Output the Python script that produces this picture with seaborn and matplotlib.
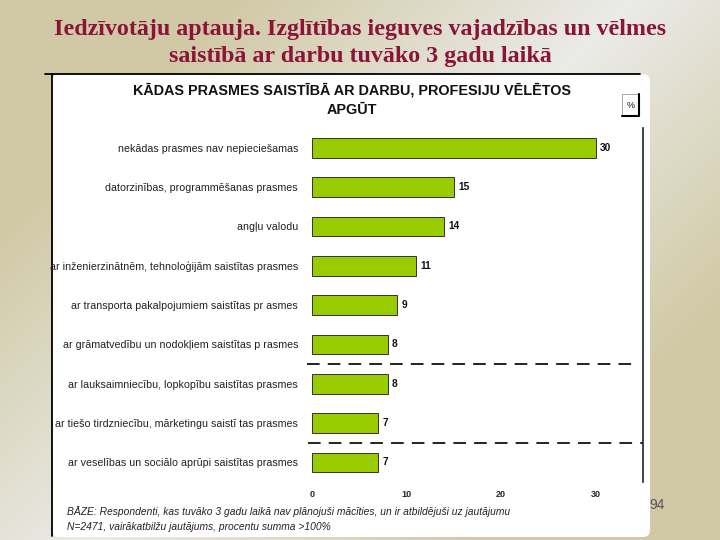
import matplotlib
matplotlib.use('Agg')
import matplotlib.pyplot as plt
from matplotlib.patches import FancyBboxPatch, Rectangle
import seaborn as sns
import numpy as np
import pandas as pd

# === 1. Data ===
skills = [
    'nekādas prasmes nav nepieciešamas',
    'datorzinības, programmēšanas prasmes',
    'angļu valodu',
    'ar inženierzinātnēm, tehnoloģijām saistītas prasmes',
    'ar transporta pakalpojumiem saistītas pr asmes',
    'ar grāmatvedību un nodokļiem saistītas p rasmes',
    'ar lauksaimniecību, lopkopību saistītas prasmes',
    'ar tiešo tirdzniecību, mārketingu saistī tas prasmes',
    'ar veselības un sociālo aprūpi saistītas prasmes',
]
shares = [30, 15, 14, 11, 9, 8, 8, 7, 7]
x_ticks = [0, 10, 20, 30]

df = pd.DataFrame({'Skill': skills, 'Share': shares})

slide_title = 'Iedzīvotāju aptauja. Izglītības ieguves vajadzības un vēlmes\nsaistībā ar darbu tuvāko 3 gadu laikā'
chart_title = 'KĀDAS PRASMES SAISTĪBĀ AR DARBU, PROFESIJU VĒLĒTOS\nAPGŪT'
base_note = ['BĀZE: Respondenti, kas tuvāko 3 gadu laikā nav plānojuši mācīties, un ir atbildējuši uz jautājumu',
             'N=2471, vairākatbilžu jautājums, procentu summa >100%']

# === 2. Style ===
sns.set_style('white')
plt.rcParams['font.family'] = ['Liberation Sans', 'DejaVu Sans']

fig = plt.figure(figsize=(7.2, 5.4), dpi=100)

# === 3. Slide background (pixel coords) ===
bg = fig.add_axes([0, 0, 1, 1])
xx, yy = np.meshgrid(np.linspace(0, 720, 240), np.linspace(0, 540, 180))
t = (xx + yy) / 1260.0
w = np.clip(1 - np.abs(2 * t - 1) * 1.6, 0, 1)
beige = np.array([0.82, 0.79, 0.65])
light = np.array([0.92, 0.92, 0.91])
grad = beige[None, None, :] + (light - beige)[None, None, :] * w[..., None]
bg.imshow(grad, extent=[0, 720, 540, 0], aspect='auto', zorder=0)
bg.set_xlim(0, 720)
bg.set_ylim(540, 0)
bg.axis('off')

bg.add_patch(FancyBboxPatch((52, 74), 598, 463, boxstyle='round,pad=0,rounding_size=7',
                            facecolor='white', edgecolor='none', zorder=1))
bg.plot([45, 640], [74, 74], color='black', lw=1.3, zorder=2)
bg.plot([52, 52], [74, 536], color='black', lw=1.3, zorder=2)

bg.text(360, 43, slide_title, ha='center', va='center', fontsize=17.3, fontweight='bold',
        color='#8b1538', family=['Liberation Serif', 'DejaVu Serif'], linespacing=1.38, zorder=3)

bg.text(352, 100, chart_title, ha='center', va='center', fontsize=10.4, fontweight='bold',
        color='#111111', linespacing=1.5, zorder=3)

# "%" box
bg.add_patch(Rectangle((622, 94), 17, 22, facecolor='white', edgecolor='#999999', lw=0.6, zorder=2))
bg.plot([622, 639, 639], [116, 116, 94], color='black', lw=1.5, zorder=3)
bg.text(630.5, 105, '%', ha='center', va='center', fontsize=6.5, color='#111111', zorder=3)

bg.text(67, 512, base_note[0], ha='left', va='center', fontsize=7.4, style='italic', color='#222222', zorder=3)
bg.text(67, 527, base_note[1], ha='left', va='center', fontsize=7.4, style='italic', color='#222222', zorder=3)
bg.text(649, 505, '94', ha='left', va='center', fontsize=10, color='#555555', zorder=3)

# === 4. Bar chart ===
ax = fig.add_axes([312 / 720, 1 - 482 / 540, 331 / 720, 354 / 540])
ax.patch.set_alpha(0)
sns.barplot(data=df, x='Share', y='Skill', color='#99cc00', width=0.5,
            edgecolor='#333333', linewidth=0.7, saturation=1, ax=ax)

ax.set_xlim(0, 35)
ax.set_ylim(len(skills) - 0.5, -0.5)
ax.set_xticks(x_ticks)
ax.set_xticklabels([str(v) for v in x_ticks], fontsize=6.5, fontweight='bold')
ax.set_yticklabels(skills, fontsize=7.7, color='#222222')
ax.tick_params(axis='y', length=0, pad=10)
ax.tick_params(axis='x', length=0, pad=6)
ax.set_xlabel('')
ax.set_ylabel('')
for side in ['top', 'left', 'bottom']:
    ax.spines[side].set_visible(False)
ax.spines['right'].set_color('#222222')
ax.spines['right'].set_linewidth(1.2)

# value labels
for bar in ax.patches:
    val = bar.get_width()
    ax.text(val + 0.45, bar.get_y() + bar.get_height() / 2, f'{val:.0f}',
            ha='left', va='center', fontsize=7.3, fontweight='bold', color='#111111')

# dashed separators
ax.axhline(5.5, xmin=-0.015, xmax=0.967, color='#111111', lw=1.3,
           linestyle=(0, (7, 4.5)), clip_on=False)
ax.axhline(7.5, xmin=-0.012, xmax=1.0, color='#111111', lw=1.3,
           linestyle=(0, (7, 4.5)), clip_on=False)

plt.savefig('out.png', dpi=100)
